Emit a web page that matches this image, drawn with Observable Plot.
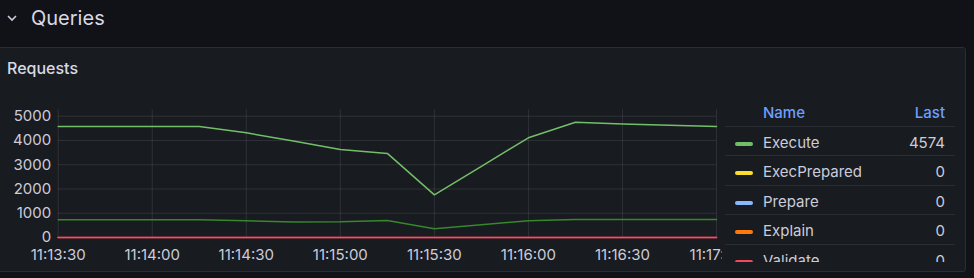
<!DOCTYPE html>
<html>
<head>
<meta charset="utf-8">
<script src="https://cdn.jsdelivr.net/npm/d3@7"></script>
<script src="https://cdn.jsdelivr.net/npm/@observablehq/plot@0.6"></script>
<style>
  html, body { margin: 0; padding: 0; }
  body { width: 974px; height: 278px; overflow: hidden; background: #111217; font-family: Inter, "Noto Sans", sans-serif; color: #ccccdc; position: relative; }
  #row { position: absolute; left: 0; top: 0; width: 974px; height: 46px; }
  #chev { position: absolute; left: 6px; top: 13px; }
  #rowtitle { position: absolute; left: 31px; top: 4px; font-size: 20px; line-height: 28px; font-weight: 400; color: #d8d9e3; }
  #panel { position: absolute; left: -2px; top: 47px; width: 966px; height: 223px; background: #181b1f; border: 1px solid #2a2d33; border-radius: 3px; }
  #ptitle { position: absolute; left: 7px; top: 58px; font-size: 16px; line-height: 20px; font-weight: 500; color: #d8d9e3; }
  #chart { position: absolute; left: 0; top: 100px; width: 722px; height: 178px; overflow: hidden; }
  #chart svg, #chart svg g, #chart svg text { font-variant: normal !important; font-variant-numeric: normal !important; }
  #legend { position: absolute; left: 725px; top: 98px; width: 230px; height: 164px; overflow: hidden; }
  #legend table { border-collapse: collapse; width: 230px; font-size: 15px; }
  #legend th { color: #6e9fff; font-weight: 500; height: 28px; padding: 2px 0 0 0; border-bottom: 1px solid #2a2d33; box-sizing: border-box; }
  #legend td { height: 29.5px; padding: 3px 0 0 0; border-bottom: 1px solid #2a2d33; box-sizing: border-box; color: #ccccdc; }
  .sw { display: inline-block; width: 18px; height: 4px; border-radius: 2px; vertical-align: middle; margin-left: 10px; }
</style>
</head>
<body>
<div id="row">
  <svg id="chev" width="12" height="10"><polyline points="2,3 6,7 10,3" fill="none" stroke="#ccccdc" stroke-width="1.6"/></svg>
  <div id="rowtitle">Queries</div>
</div>
<div id="panel"></div>
<div id="ptitle">Requests</div>
<div id="chart"></div>
<div id="legend"></div>
<script>
// ---- data ----
const times = ["11:13:30","11:13:45","11:14:00","11:14:15","11:14:30","11:14:45","11:15:00","11:15:15","11:15:30","11:15:45","11:16:00","11:16:15","11:16:30","11:16:45","11:17:00"];
const xTickLabels = ["11:13:30","11:14:00","11:14:30","11:15:00","11:15:30","11:16:00","11:16:30","11:17:00"];
const yTickValues = [0, 1000, 2000, 3000, 4000, 5000];

const seriesNames = ["Execute", "ExecPrepared", "Prepare", "Explain", "Validate"];
const seriesColors = ["#73BF69", "#FADE2A", "#8AB8FF", "#FF780A", "#F2495C"];

const execute      = [4575, 4575, 4575, 4575, 4315, 3980, 3627, 3466, 1760, 2935, 4110, 4755, 4680, 4630, 4574];
const execPrepared = [0, 0, 0, 0, 0, 0, 0, 0, 0, 0, 0, 0, 0, 0, 0];
const prepare      = [0, 0, 0, 0, 0, 0, 0, 0, 0, 0, 0, 0, 0, 0, 0];
const explain      = [0, 0, 0, 0, 0, 0, 0, 0, 0, 0, 0, 0, 0, 0, 0];
const validate     = [0, 0, 0, 0, 0, 0, 0, 0, 0, 0, 0, 0, 0, 0, 0];

// series further down the (scrolled) legend, only its line is visible
const otherName = "Other";
const otherColor = "#37872D";
const other = [730, 730, 730, 730, 690, 640, 645, 700, 360, 525, 690, 740, 740, 740, 740];

// ---- build ----
const parseT = s => { const [h, m, sec] = s.split(":").map(Number); return new Date(Date.UTC(2024, 0, 1, h, m, sec)); };
const seriesValues = [execute, execPrepared, prepare, explain, validate];
const rows = [];
seriesNames.forEach((name, i) => times.forEach((t, j) => rows.push({series: name, time: parseT(t), value: seriesValues[i][j]})));
const otherRows = times.map((t, j) => ({series: otherName, time: parseT(t), value: other[j]}));
const colorOf = Object.fromEntries(seriesNames.map((n, i) => [n, seriesColors[i]]));
const zeroSeries = ["ExecPrepared", "Prepare", "Explain", "Validate"];

const plot = Plot.plot({
  width: 722,
  height: 178,
  marginLeft: 57.7,
  marginRight: 6,
  marginTop: 9.3,
  marginBottom: 41,
  style: {background: "transparent", color: "#ccccdc", fontFamily: "Inter, sans-serif", fontSize: "14px"},
  x: {type: "utc", domain: [parseT(times[0]), parseT(times[times.length - 1])]},
  y: {domain: [0, 5265]},
  marks: [
    Plot.gridX(xTickLabels.map(parseT), {stroke: "#ccccdc", strokeOpacity: 0.12, strokeWidth: 1}),
    Plot.gridY(yTickValues, {stroke: "#ccccdc", strokeOpacity: 0.12, strokeWidth: 1}),
    Plot.axisX(xTickLabels.map(parseT), {tickSize: 0, tickPadding: 12, tickFormat: d3.utcFormat("%H:%M:%S"), fontSize: 15, fill: "#ccccdc", label: null}),
    Plot.axisY(yTickValues, {tickSize: 0, tickPadding: 7, tickFormat: d3.format("d"), fontSize: 15, fill: "#ccccdc", label: null}),
    ...zeroSeries.map(n => Plot.line(rows.filter(r => r.series === n), {x: "time", y: "value", stroke: colorOf[n], strokeWidth: n === "Validate" ? 2 : 1, strokeOpacity: n === "Validate" ? 0.8 : 1})),
    Plot.line(otherRows, {x: "time", y: "value", stroke: otherColor, strokeWidth: 1.5}),
    Plot.line(rows.filter(r => r.series === "Execute"), {x: "time", y: "value", stroke: colorOf["Execute"], strokeWidth: 1.5})
  ]
});
document.getElementById("chart").appendChild(plot);

// legend table
const lastVals = seriesValues.map(v => v[v.length - 1]);
let html = '<table><tr><th style="width:38px"></th><th style="text-align:left">Name</th><th style="text-align:right;padding-right:10px">Last</th></tr>';
seriesNames.forEach((n, i) => {
  html += `<tr><td><span class="sw" style="background:${seriesColors[i]}"></span></td><td>${n}</td><td style="text-align:right;padding-right:10px">${lastVals[i]}</td></tr>`;
});
html += '</table>';
document.getElementById("legend").innerHTML = html;
</script>
</body>
</html>
